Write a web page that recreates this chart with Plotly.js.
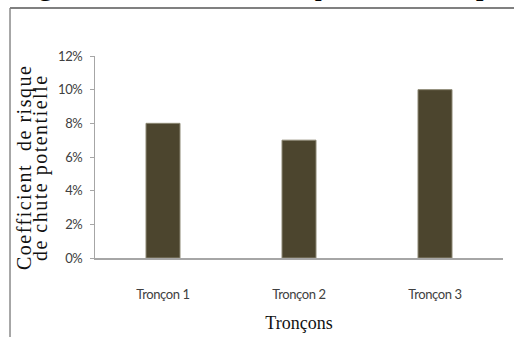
<!DOCTYPE html>
<html>
<head>
<meta charset="utf-8">
<script src="https://cdn.plot.ly/plotly-3.0.1.min.js"></script>
<style>
  html, body { margin: 0; padding: 0; background: #fff; }
  #chart { width: 514px; height: 337px; }
  /* widen the spacing of the rotated y-axis caption */
  #chart .annotation[data-index="1"] text,
  #chart .annotation[data-index="2"] text { letter-spacing: 1.5px; }
  /* tighter, condensed-looking tick labels */
  #chart .xtick text, #chart .ytick text { letter-spacing: -0.4px; }
</style>
</head>
<body>
<div id="chart"></div>
<script>
// Coefficient de risque de chute potentielle par tronçon
const troncons = ['Tronçon 1', 'Tronçon 2', 'Tronçon 3'];
const risque = [0.08, 0.07, 0.10];
const yTicks = [0, 0.02, 0.04, 0.06, 0.08, 0.10, 0.12];
const yTickLabels = ['0%', '2%', '4%', '6%', '8%', '10%', '12%'];

const narrow = 'Lato, "Liberation Sans Narrow", sans-serif';
const serif = '"Liberation Serif", "Times New Roman", serif';

const trace = {
  type: 'bar',
  x: troncons,
  y: risque,
  width: 0.25,
  marker: { color: '#4c452e', line: { color: '#8c8874', width: 1 } },
  hoverinfo: 'x+y'
};

const layout = {
  width: 514,
  height: 337,
  margin: { l: 95, r: 11, t: 56, b: 79 },
  paper_bgcolor: '#ffffff',
  plot_bgcolor: '#ffffff',
  showlegend: false,
  bargap: 0.75,
  xaxis: {
    type: 'category',
    showline: true,
    linecolor: '#a6a6a6',
    linewidth: 2,
    ticks: '',
    showgrid: false,
    zeroline: false,
    ticklabelstandoff: 23,
    tickfont: { family: narrow, size: 13, color: '#404040' },
    title: { text: 'Tronçons', font: { family: serif, size: 18, color: '#111111' }, standoff: 16 },
    automargin: false
  },
  yaxis: {
    range: [0, 0.12],
    tickvals: yTicks,
    ticktext: yTickLabels,
    showline: true,
    linecolor: '#a6a6a6',
    linewidth: 1,
    ticks: 'outside',
    ticklen: 4,
    tickcolor: '#a6a6a6',
    showgrid: false,
    zeroline: false,
    ticklabelstandoff: 5,
    tickfont: { family: narrow, size: 13, color: '#404040' },
    automargin: false
  },
  shapes: [
    // page frame: left and top edges
    { type: 'line', xref: 'paper', yref: 'paper', x0: -0.2083, x1: -0.2083, y0: 1.2376, y1: -0.5,
      line: { color: '#8a8a8a', width: 1.5 } },
    { type: 'line', xref: 'paper', yref: 'paper', x0: -0.2083, x1: 1.2, y0: 1.2376, y1: 1.2376,
      line: { color: '#808080', width: 2 } }
  ],
  annotations: [
    { text: 'Figure 4: Indices de risque de chute potentielle', xref: 'paper', yref: 'paper',
      x: -0.21, y: 1.262, xanchor: 'left', yanchor: 'bottom', showarrow: false,
      font: { family: serif, size: 32, color: '#000000' } },
    { text: 'Coefficient  de risque', xref: 'paper', yref: 'paper',
      x: -0.173, y: 0.45, xanchor: 'center', yanchor: 'middle', textangle: -90, showarrow: false,
      font: { family: serif, size: 20, color: '#111111' } },
    { text: 'de chute potentielle', xref: 'paper', yref: 'paper',
      x: -0.135, y: 0.45, xanchor: 'center', yanchor: 'middle', textangle: -90, showarrow: false,
      font: { family: serif, size: 20, color: '#111111' } }
  ]
};

Plotly.newPlot('chart', [trace], layout, { displayModeBar: false, staticPlot: true });
</script>
</body>
</html>
